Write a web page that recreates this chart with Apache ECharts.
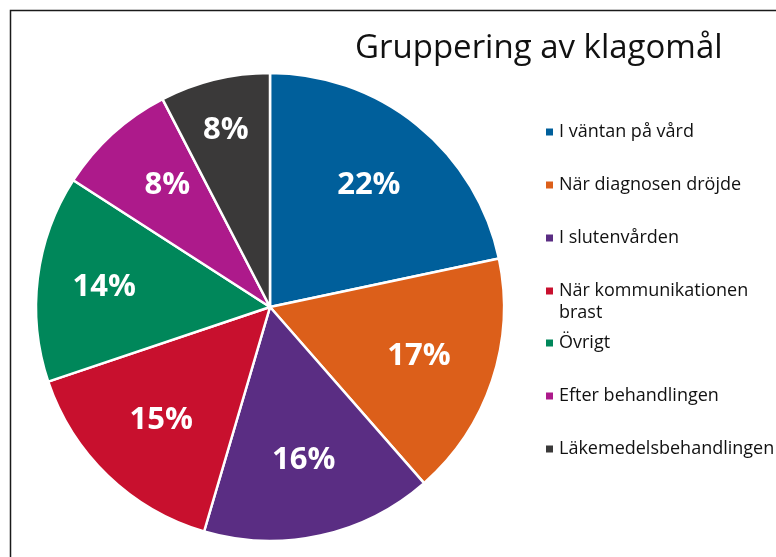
<!DOCTYPE html>
<html>
<head>
<meta charset="utf-8">
<script src="https://cdn.jsdelivr.net/npm/echarts@6/dist/echarts.min.js"></script>
<style>
  html, body { margin: 0; padding: 0; background: #fff; }
  #chart { width: 776px; height: 557px; }
</style>
</head>
<body>
<div id="chart"></div>
<script>
// kategorier och andelar (procent)
const categories = [
    'I väntan på vård',
    'När diagnosen dröjde',
    'I slutenvården',
    'När kommunikationen\nbrast',
    'Övrigt',
    'Efter behandlingen',
    'Läkemedelsbehandlingen'
];
const shares = [21.7, 16.9, 16.0, 15.3, 14.3, 8.3, 7.6];
const colors = ['#005F9B', '#DC5F1A', '#5A2D83', '#C8102E', '#00875A', '#AD1A8B', '#3A3939'];

const chart = echarts.init(document.getElementById('chart'), null, { renderer: 'canvas' });

const pieData = categories.map((name, i) => ({
    name: name,
    value: shares[i],
    itemStyle: { color: colors[i] }
}));

// små förskjutningar av etiketter, som i originalet
const labelNudge = { 4: [-10, 0], 5: [3, -6], 6: [-7, -24] };

const font = '"Open Sans", "Noto Sans", sans-serif';
const legendText = { fontFamily: font, fontSize: 18, color: '#111', lineHeight: 22 };

function legendBlock(names, top, formatter) {
    const block = {
        orient: 'vertical',
        left: 544,
        top: top,
        padding: 0,
        itemWidth: 9,
        itemHeight: 9,
        itemGap: 31,
        icon: 'rect',
        selectedMode: false,
        textStyle: legendText,
        data: names
    };
    if (formatter) block.formatter = formatter;
    return block;
}

const option = {
    backgroundColor: '#fff',
    animation: false,
    title: {
        text: 'Gruppering av klagomål',
        left: 355,
        top: 32,
        padding: 0,
        textStyle: { fontFamily: font, fontSize: 33, fontWeight: 'normal', color: '#111' }
    },
    legend: [
        legendBlock(categories.slice(0, 3), 121),
        // två rader: tom rad överst så att ikonen hamnar vid första raden
        legendBlock([categories[3]], 258, name => '\n' + name),
        legendBlock(categories.slice(4), 332)
    ],
    graphic: [{
        type: 'rect',
        shape: { x: 10.5, y: 10.5, width: 900, height: 700 },
        style: { fill: 'none', stroke: '#1a1a1a', lineWidth: 1.5 },
        silent: true,
        z: -10
    }],
    series: [
        {
            name: 'klagomål',
            type: 'pie',
            center: [270, 307],
            radius: [0, 234],
            startAngle: 90,
            clockwise: true,
            data: pieData,
            label: { show: false },
            labelLine: { show: false },
            itemStyle: { borderColor: '#fff', borderWidth: 2.5 },
            emphasis: { disabled: true }
        },
        {
            // osynlig större cirkel, bara för att placera etiketterna längre ut
            name: 'etiketter',
            type: 'pie',
            center: [270, 307],
            radius: [0, 308],
            startAngle: 90,
            clockwise: true,
            silent: true,
            z: 5,
            data: pieData.map((d, i) => ({
                name: d.name,
                value: d.value,
                label: labelNudge[i] ? { offset: labelNudge[i] } : undefined
            })),
            itemStyle: { color: 'rgba(0,0,0,0)', borderWidth: 0 },
            label: {
                show: true,
                position: 'inside',
                formatter: p => Math.round(p.percent) + '%',
                fontFamily: font,
                fontSize: 31,
                fontWeight: 'bold',
                color: '#fff'
            },
            labelLine: { show: false },
            emphasis: { disabled: true }
        }
    ]
};

chart.setOption(option);
</script>
</body>
</html>
